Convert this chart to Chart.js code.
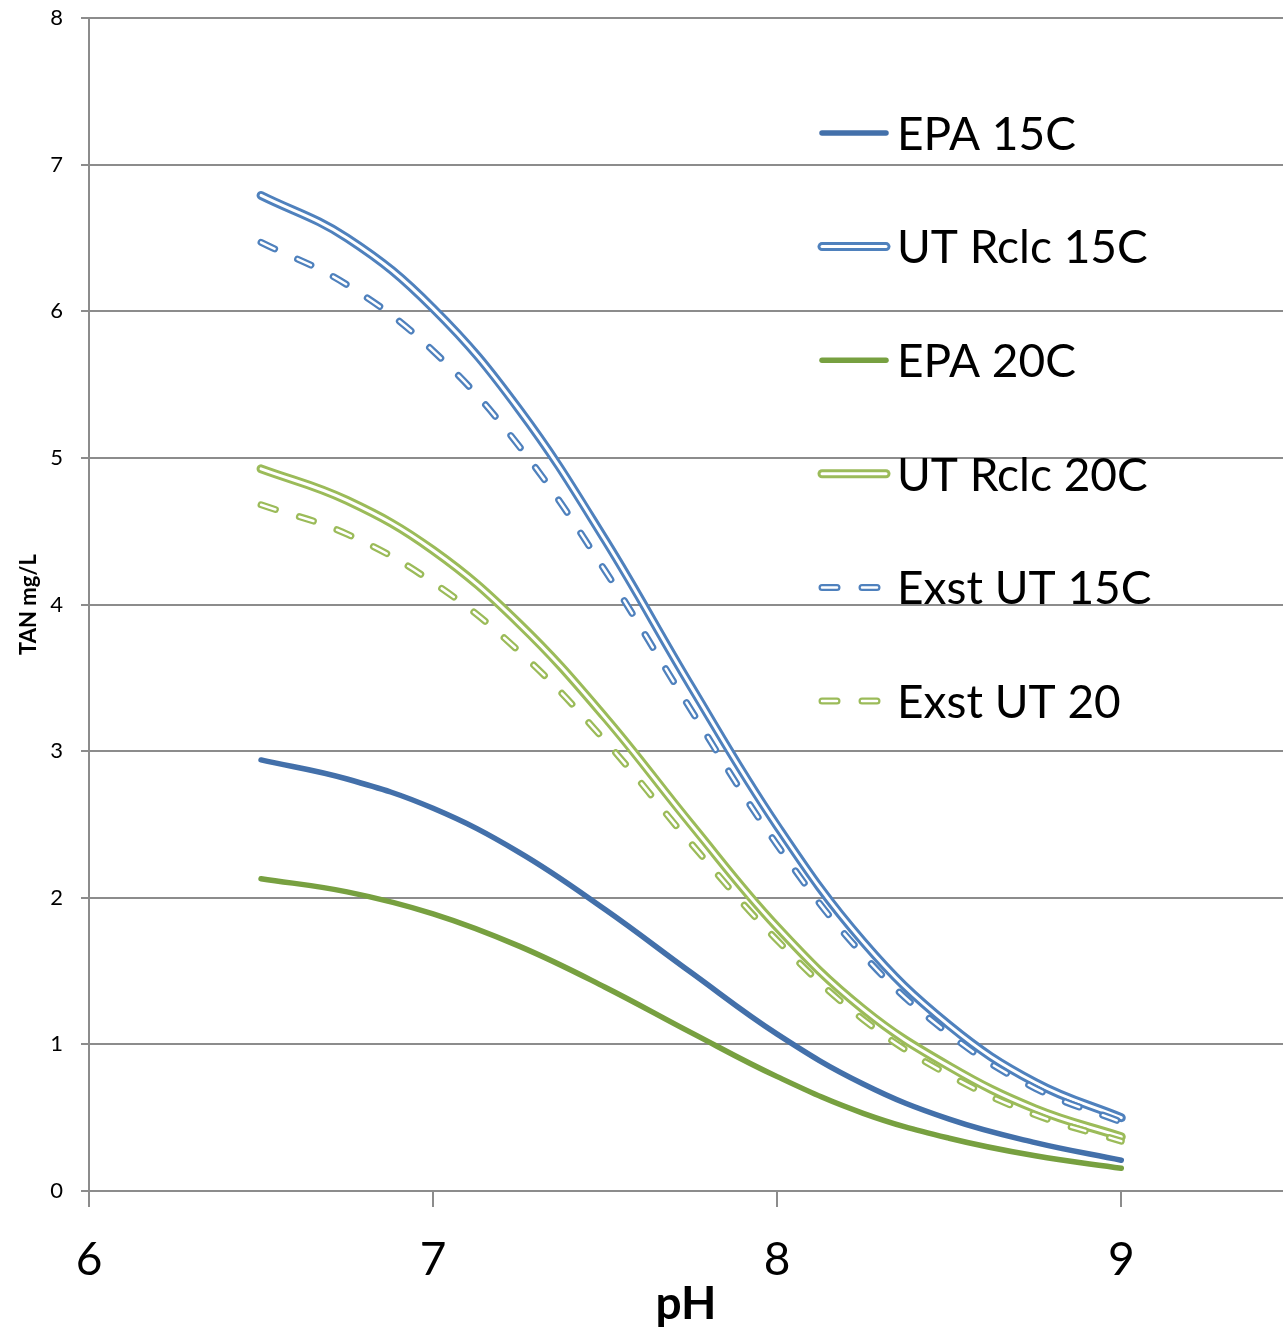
<!DOCTYPE html>
<html>
<head>
<meta charset="utf-8">
<script src="https://cdn.jsdelivr.net/npm/chart.js"></script>
<style>
  body { margin: 0; background: #fff; overflow: hidden; }
  #wrap { width: 1283px; height: 1335px; position: relative; }
</style>
</head>
<body>
<div id="wrap"><canvas id="myChart"></canvas></div>
<script>
// values
const phValues = [6.5, 6.75, 7, 7.25, 7.5, 7.75, 8, 8.25, 8.5, 8.75, 9];
const epa15 = [2.94, 2.81, 2.61, 2.31, 1.92, 1.49, 1.07, 0.73, 0.49, 0.33, 0.21];
const utRclc15 = [6.79, 6.50, 6.02, 5.33, 4.44, 3.44, 2.49, 1.70, 1.13, 0.74, 0.50];
const epa20 = [2.13, 2.04, 1.89, 1.67, 1.39, 1.08, 0.78, 0.53, 0.36, 0.24, 0.155];
const utRclc20 = [4.925, 4.71, 4.37, 3.87, 3.23, 2.50, 1.80, 1.24, 0.85, 0.56, 0.37];
const exst15 = [6.47, 6.18, 5.73, 5.08, 4.23, 3.28, 2.36, 1.61, 1.07, 0.70, 0.47];
const exst20 = [4.68, 4.48, 4.15, 3.68, 3.07, 2.37, 1.71, 1.17, 0.79, 0.52, 0.34];

const seriesNames = ["EPA 15C", "UT Rclc 15C", "EPA 20C", "UT Rclc 20C", "Exst UT 15C", "Exst UT 20"];
const seriesValues = [epa15, utRclc15, epa20, utRclc20, exst15, exst20];
const yTicks = [0, 1, 2, 3, 4, 5, 6, 7, 8];
const xTicks = [6, 7, 8, 9];

const gridColor = "#8c8c8c";
const DASH = [15, 25];

// line look per series: colour, outer width, white inner width (0 = plain), dash
const looks = [
  { color: "#4370aa", width: 5.5, inner: 0, dash: [] },
  { color: "#4f81bd", width: 9, inner: 3, dash: [] },
  { color: "#77a040", width: 5.5, inner: 0, dash: [] },
  { color: "#9bbb59", width: 9, inner: 3, dash: [] },
  { color: "#4f81bd", width: 7, inner: 2.5, dash: DASH },
  { color: "#9bbb59", width: 7, inner: 2.5, dash: DASH }
];

const toPoints = (vals) => vals.map((v, i) => ({ x: phValues[i], y: v }));

let datasets = [];
seriesValues.forEach((vals, i) => {
  const lk = looks[i];
  datasets.push({
    label: seriesNames[i],
    data: toPoints(vals),
    borderColor: lk.color,
    borderWidth: lk.width,
    borderDash: lk.dash,
    borderCapStyle: "round",
    borderJoinStyle: "round",
    pointRadius: 0,
    fill: false,
    tension: 0.4,
    order: 20 - i * 2
  });
  if (lk.inner > 0) {
    datasets.push({
      label: seriesNames[i] + " inner",
      data: toPoints(vals),
      borderColor: "#ffffff",
      borderWidth: lk.inner,
      borderDash: lk.dash,
      borderCapStyle: "round",
      borderJoinStyle: "round",
      pointRadius: 0,
      fill: false,
      tension: 0.4,
      order: 19 - i * 2
    });
  }
});

function drawSample(ctx, x1, x2, y, lk) {
  ctx.save();
  ctx.lineCap = "round";
  ctx.setLineDash(lk.dash);
  ctx.strokeStyle = lk.color;
  ctx.lineWidth = lk.width;
  ctx.beginPath();
  ctx.moveTo(x1, y);
  ctx.lineTo(x2, y);
  ctx.stroke();
  if (lk.inner > 0) {
    ctx.strokeStyle = "#ffffff";
    ctx.lineWidth = lk.inner;
    ctx.beginPath();
    ctx.moveTo(x1, y);
    ctx.lineTo(x2, y);
    ctx.stroke();
  }
  ctx.restore();
}

const sideLegend = {
  id: "sideLegend",
  afterDraw(chart) {
    const ctx = chart.ctx;
    ctx.save();
    ctx.font = "46px Lato";
    ctx.textBaseline = "middle";
    ctx.fillStyle = "#000";
    seriesNames.forEach((name, i) => {
      const y = 133 + i * 113.6;
      drawSample(ctx, 822, 886, y, looks[i]);
      ctx.fillText(name, 897, y + 2);
    });
    ctx.restore();
  }
};

var ctx = document.getElementById("myChart");
var chart = new Chart(ctx, {
  type: "line",
  data: { datasets: datasets },
  plugins: [sideLegend],
  options: {
    responsive: true,
    maintainAspectRatio: false,
    animation: false,
    layout: { padding: { top: 18, right: 0, left: 0, bottom: 0 } },
    plugins: {
      legend: { display: false },
      tooltip: { enabled: false }
    },
    scales: {
      x: {
        type: "linear",
        min: 6,
        max: 9.47,
        afterFit: (s) => { s.height = 144; s.paddingLeft = 0; s.paddingRight = 0; },
        afterBuildTicks: (s) => { s.ticks = xTicks.map((v) => ({ value: v })); },
        grid: { drawOnChartArea: false, drawTicks: true, tickLength: 16, color: gridColor, lineWidth: 2 },
        border: { display: true, color: gridColor, width: 2 },
        ticks: { color: "#000", font: { family: "Lato", size: 46 }, padding: 26, maxRotation: 0 },
        title: { display: true, text: "pH", color: "#000", font: { family: "Lato", size: 46, weight: "bold" }, padding: { top: 0, bottom: 3 } }
      },
      y: {
        min: 0,
        max: 8,
        afterFit: (s) => { s.width = 89; s.paddingTop = 0; s.paddingBottom = 0; },
        afterBuildTicks: (s) => { s.ticks = yTicks.map((v) => ({ value: v })); },
        grid: { color: gridColor, lineWidth: 2, drawTicks: true, tickLength: 8 },
        border: { display: true, color: gridColor, width: 2 },
        ticks: { color: "#000", font: { family: "Lato", size: 22 }, padding: 18 },
        title: { display: true, text: "TAN mg/L", color: "#000", font: { family: "Lato", size: 22, weight: "bold" }, padding: { top: 16, bottom: 0 } }
      }
    }
  }
});
</script>
</body>
</html>
